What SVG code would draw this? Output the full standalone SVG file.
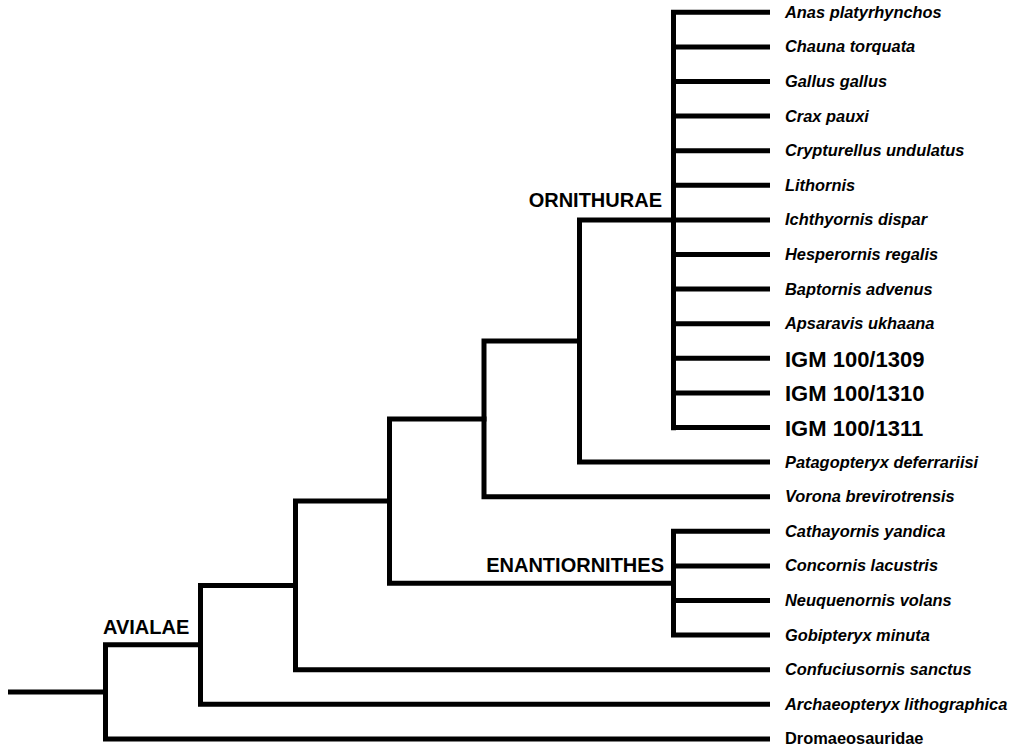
<svg xmlns="http://www.w3.org/2000/svg" width="1015" height="747" viewBox="0 0 1015 747">
<style>
.e{fill:none;stroke:#000;stroke-width:5;stroke-linecap:square;stroke-linejoin:miter}
text{font-family:"Liberation Sans",Arial,Helvetica,sans-serif;font-weight:bold;fill:#000}
.t{font-size:16.4px;font-style:italic}
.d{font-size:16.4px}
.g{font-size:22px}
.c{font-size:20px}
</style>
<rect width="1015" height="747" fill="#fff"/>
<g id="connectors">
<path class="e" d="M10.5 691.9H105.5M105.5 644.85V738.9M105.5 644.85H200.5M105.5 738.9H767.5"/>
<path class="e" d="M200.5 585.4V704.3M200.5 585.4H295.5M200.5 704.3H767.5"/>
<path class="e" d="M295.5 501.05V669.7M295.5 501.05H389.5M295.5 669.7H767.5"/>
<path class="e" d="M389.5 418.9V583.2M389.5 418.9H484M389.5 583.2H673.5"/>
<path class="e" d="M484 341.05V496.7M484 341.05H579.5M484 496.7H767.5"/>
<path class="e" d="M579.5 220V462.1M579.5 220H673.5M579.5 462.1H767.5"/>
<path class="e" d="M673.5 12.3V427.7M673.5 12.3H767.5M673.5 46.9H767.5M673.5 81.5H767.5M673.5 116.1H767.5M673.5 150.7H767.5M673.5 185.3H767.5M673.5 219.9H767.5M673.5 254.5H767.5M673.5 289.1H767.5M673.5 323.7H767.5M673.5 358.3H767.5M673.5 392.9H767.5M673.5 427.5H767.5"/>
<path class="e" d="M673.5 531.3V635.1M673.5 531.3H767.5M673.5 565.9H767.5M673.5 600.5H767.5M673.5 635.1H767.5"/>
</g>
<g id="clade-ornithurae"><text class="c" x="662" y="207" text-anchor="end">ORNITHURAE</text></g>
<g id="clade-enantiornithes"><text class="c" x="664" y="572" text-anchor="end">ENANTIORNITHES</text></g>
<g id="clade-avialae"><text class="c" x="103" y="634">AVIALAE</text></g>
<g id="leaf-anas"><text class="t" x="785" y="17.8">Anas platyrhynchos</text></g>
<g id="leaf-chauna"><text class="t" x="785" y="52.4">Chauna torquata</text></g>
<g id="leaf-gallus"><text class="t" x="785" y="87">Gallus gallus</text></g>
<g id="leaf-crax"><text class="t" x="785" y="121.6">Crax pauxi</text></g>
<g id="leaf-crypturellus"><text class="t" x="785" y="156.2">Crypturellus undulatus</text></g>
<g id="leaf-lithornis"><text class="t" x="785" y="190.8">Lithornis</text></g>
<g id="leaf-ichthyornis"><text class="t" x="785" y="225.4">Ichthyornis dispar</text></g>
<g id="leaf-hesperornis"><text class="t" x="785" y="260">Hesperornis regalis</text></g>
<g id="leaf-baptornis"><text class="t" x="785" y="294.6">Baptornis advenus</text></g>
<g id="leaf-apsaravis"><text class="t" x="785" y="329.2">Apsaravis ukhaana</text></g>
<g id="leaf-igm1309"><text class="g" x="785" y="366.8">IGM 100/1309</text></g>
<g id="leaf-igm1310"><text class="g" x="785" y="401.4">IGM 100/1310</text></g>
<g id="leaf-igm1311"><text class="g" x="785" y="436">IGM 100/1311</text></g>
<g id="leaf-patagopteryx"><text class="t" x="785" y="467.6">Patagopteryx deferrariisi</text></g>
<g id="leaf-vorona"><text class="t" x="785" y="502.2">Vorona brevirotrensis</text></g>
<g id="leaf-cathayornis"><text class="t" x="785" y="536.8">Cathayornis yandica</text></g>
<g id="leaf-concornis"><text class="t" x="785" y="571.4">Concornis lacustris</text></g>
<g id="leaf-neuquenornis"><text class="t" x="785" y="606">Neuquenornis volans</text></g>
<g id="leaf-gobipteryx"><text class="t" x="785" y="640.6">Gobipteryx minuta</text></g>
<g id="leaf-confuciusornis"><text class="t" x="785" y="675.2">Confuciusornis sanctus</text></g>
<g id="leaf-archaeopteryx"><text class="t" x="785" y="709.8">Archaeopteryx lithographica</text></g>
<g id="leaf-dromaeosauridae"><text class="d" x="785" y="744.4">Dromaeosauridae</text></g>
</svg>
